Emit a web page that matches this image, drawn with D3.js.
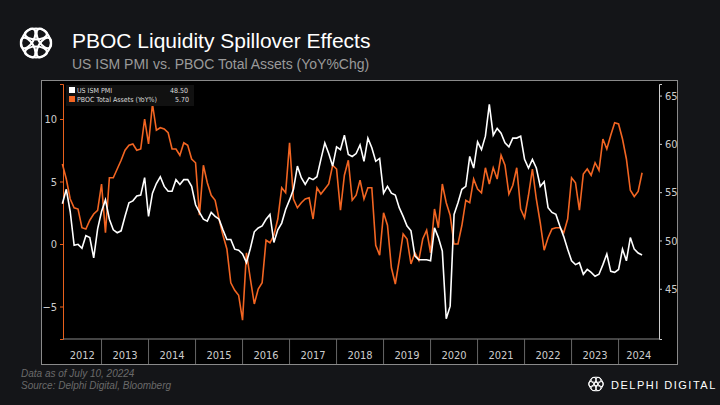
<!DOCTYPE html>
<html><head><meta charset="utf-8">
<script src="https://cdn.jsdelivr.net/npm/d3@7"></script>
<style>body{margin:0;background:#141518;}svg{display:block;font-family:"Liberation Sans",Arial,sans-serif;}</style>
</head><body><div id="container"></div>
<script>
const startYear = 2012, startMonth = 2; // Mar 2012
const years = d3.range(2012, 2025);
const leftTicks = [-5, 0, 5, 10];
const rightTicks = [45, 50, 55, 60, 65];

const ismPmi = [
  53.8, 55.3, 53.0, 49.5, 49.6, 49.2, 50.5, 50.3, 48.2, 51.2,
  53.0, 54.2, 52.2, 51.1, 50.8, 51.0, 52.5, 53.9, 54.1, 54.6, 54.7, 56.5,
  52.5, 54.9, 55.9, 56.6, 55.6, 55.1, 55.1, 56.3, 55.8, 56.3, 56.3, 55.6,
  53.7, 52.9, 52.2, 52.0, 52.9, 52.5, 52.2, 51.1, 50.1, 50.1, 49.1, 49.0,
  48.6, 47.7, 49.2, 50.9, 51.3, 51.5, 52.2, 52.7, 49.8, 51.1, 51.8, 53.2,
  54.2, 55.3, 57.7, 56.5, 55.8, 56.5, 56.3, 56.6, 58.4, 60.1, 59.0, 57.7,
  59.7, 59.4, 60.9, 58.9, 58.7, 59.0, 59.9, 58.2, 60.6, 59.6, 58.2, 58.5,
  54.9, 55.6, 54.9, 54.7, 53.4, 52.5, 51.5, 51.0, 48.4, 48.0, 48.0, 48.0,
  47.9, 51.3, 50.3, 48.9, 41.9, 43.2, 52.7, 53.9, 55.3, 55.6, 58.7, 57.5,
  60.2, 59.4, 60.8, 64.1, 60.9, 61.6, 61.1, 60.1, 59.7, 60.6, 60.6, 60.8,
  58.4, 57.5, 58.4, 57.5, 55.6, 56.1, 53.4, 52.9, 52.7, 51.5, 50.4, 49.1,
  47.9, 47.5, 47.7, 46.5, 47.0, 46.7, 46.3, 46.5, 47.5, 48.6, 46.8, 46.7,
  47.0, 49.1, 47.9, 50.3, 49.1, 48.7, 48.5
];
const pbocAssets = [
  6.4, 5.2, 3.6, 2.9, 2.8, 1.3, 1.2, 1.9, 2.4, 2.7,
  4.8, 0.9, 5.3, 5.3, 6.0, 6.7, 7.5, 7.9, 8.0, 7.5, 7.6, 10.0,
  8.0, 11.2, 9.1, 9.3, 9.2, 8.9, 7.6, 7.6, 7.1, 8.1, 7.9, 6.8,
  6.5, 2.3, 6.3, 4.9, 3.9, 3.5, 2.0, 0.7, -0.4, -3.1, -3.7, -4.1,
  -6.1, -0.7, -2.8, -4.8, -3.6, -3.1, 0.3, 0.1, 0.7, 2.0, 4.5, 4.1,
  8.1, 3.6, 2.9, 3.3, 3.6, 3.7, 2.0, 4.5, 4.0, 4.4, 4.8, 6.3,
  6.0, 2.7, 5.5, 6.7, 3.5, 3.9, 5.1, 3.6, 4.5, 4.5, -0.1, -0.9,
  2.5, 1.5, -1.9, -3.2, -1.3, 0.8, 0.4, -1.6, -0.7, -1.3, 0.4, 1.1,
  -0.7, 2.8, 1.3, 4.8, 3.3, 2.3, 0.0, 0.0, 1.5, 3.5, 3.3, 5.2,
  4.4, 4.1, 6.1, 4.8, 6.1, 5.2, 7.1, 6.3, 4.0, 4.7, 6.1, 2.8,
  2.1, 3.9, 6.0, 3.6, 1.7, -0.5, 0.5, 1.2, 1.3, 1.3, 0.9, 2.0,
  5.3, 4.9, 2.7, 5.6, 6.0, 5.5, 6.5, 5.9, 8.4, 7.6, 8.7, 9.7,
  9.6, 8.4, 6.8, 4.3, 3.8, 4.2, 5.7
];
const dates = ismPmi.map((d, i) => startYear + (startMonth + i) / 12);

const W = 720, H = 405;
const svg = d3.select('#container').append('svg').attr('width', W).attr('height', H);
svg.append('rect').attr('width', W).attr('height', H).attr('fill', '#141518');

// header logo
const logo = svg.append('g').attr('transform', 'translate(36 43)');
d3.range(6).forEach(i => {
  logo.append('ellipse').attr('rx', 11).attr('ry', 5.5)
    .attr('transform', `rotate(${i * 60}) translate(0 -9)`)
    .attr('fill', 'none').attr('stroke', '#fff').attr('stroke-width', 2.2);
});
svg.append('text').attr('x', 72).attr('y', 48).attr('fill', '#fff')
  .style('font-size', '21px').text('PBOC Liquidity Spillover Effects');
svg.append('text').attr('x', 72).attr('y', 69).attr('fill', '#9a9a9a')
  .style('font-size', '14px').text('US ISM PMI vs. PBOC Total Assets (YoY%Chg)');

// panel
svg.append('rect').attr('x', 41.5).attr('y', 80.5).attr('width', 636).attr('height', 284)
  .attr('fill', '#000').attr('stroke', '#8a8a8a').attr('stroke-width', 1);

const x = d3.scaleLinear().domain([2012.18, 2024.86]).range([63, 659]);
const yL = d3.scaleLinear().domain([-7.6, 12.8]).range([339, 84]);
const yR = d3.scaleLinear().domain([39.8, 66.2]).range([339, 84]);

const tickFont = 'DejaVu Sans Condensed, Liberation Sans Narrow, sans-serif';

// left axis
const gL = svg.append('g').attr('transform', 'translate(63 0)')
  .call(d3.axisLeft(yL).tickValues(leftTicks).tickSize(3).tickFormat(d3.format('d')));
gL.select('.domain').attr('stroke', '#e8601c');
gL.selectAll('line').attr('stroke', '#e8601c');
gL.selectAll('text').attr('fill', '#ccc').style('font-size', '11px').style('font-family', tickFont);

// right axis
const gR = svg.append('g').attr('transform', 'translate(659 0)')
  .call(d3.axisRight(yR).tickValues(rightTicks).tickSize(3));
gR.select('.domain').attr('stroke', '#ccc');
gR.selectAll('line').attr('stroke', '#ccc');
gR.selectAll('text').attr('fill', '#ccc').style('font-size', '11px').style('font-family', tickFont);

// bottom axis with year bands
svg.append('line').attr('x1', 63).attr('x2', 659).attr('y1', 339).attr('y2', 339).attr('stroke', '#888');
const gx = svg.append('g');
years.slice(1).forEach(yr => {
  gx.append('line').attr('x1', x(yr)).attr('x2', x(yr)).attr('y1', 339).attr('y2', 364)
    .attr('stroke', '#666');
});
years.forEach(yr => {
  const a = Math.max(x(yr), 63), b = Math.min(x(yr + 1), 659);
  gx.append('text').attr('x', (a + b) / 2).attr('y', 359).attr('text-anchor', 'middle')
    .attr('fill', '#ccc').style('font-size', '11px').style('font-family', tickFont).text(yr);
});

// lines
svg.append('path').datum(pbocAssets)
  .attr('fill', 'none').attr('stroke', '#f26522').attr('stroke-width', 1.6)
  .attr('d', d3.line().x((d, i) => x(dates[i])).y(d => yL(d)));
svg.append('path').datum(ismPmi)
  .attr('fill', 'none').attr('stroke', '#fff').attr('stroke-width', 1.6)
  .attr('d', d3.line().x((d, i) => x(dates[i])).y(d => yR(d)));

// legend
const lg = svg.append('g').attr('transform', 'translate(66 85)');
lg.append('rect').attr('width', 128).attr('height', 21).attr('fill', '#111');
[['US ISM PMI', '48.50', '#fff'], ['PBOC Total Assets (YoY%)', '5.70', '#f26522']].forEach((r, i) => {
  lg.append('rect').attr('x', 3).attr('y', 2 + i * 9).attr('width', 6).attr('height', 6).attr('fill', r[2]);
  lg.append('text').attr('x', 11).attr('y', 8 + i * 9).attr('fill', '#ddd')
    .style('font-size', '7px').style('font-family', tickFont).text(r[0]);
  lg.append('text').attr('x', i === 0 ? 122 : 109).attr('y', 8 + i * 9).attr('fill', '#ddd')
    .attr('text-anchor', i === 0 ? 'end' : 'start')
    .style('font-size', '7px').style('font-family', tickFont).text(r[1]);
});

// footer
svg.append('text').attr('x', 21).attr('y', 377).attr('fill', '#6a6a6a')
  .style('font-size', '10px').style('font-style', 'italic').text('Data as of July 10, 20224');
svg.append('text').attr('x', 21).attr('y', 389).attr('fill', '#6a6a6a')
  .style('font-size', '10px').style('font-style', 'italic').text('Source: Delphi Digital, Bloomberg');
const lg2 = svg.append('g').attr('transform', 'translate(596 384)');
d3.range(6).forEach(i => {
  lg2.append('ellipse').attr('rx', 5).attr('ry', 2.6)
    .attr('transform', `rotate(${i * 60}) translate(0 -4.2)`)
    .attr('fill', 'none').attr('stroke', '#fff').attr('stroke-width', 1);
});
svg.append('text').attr('x', 611).attr('y', 389).attr('fill', '#fff')
  .style('font-size', '11px').style('letter-spacing', '1.5px').text('DELPHI DIGITAL');
</script></body></html>
